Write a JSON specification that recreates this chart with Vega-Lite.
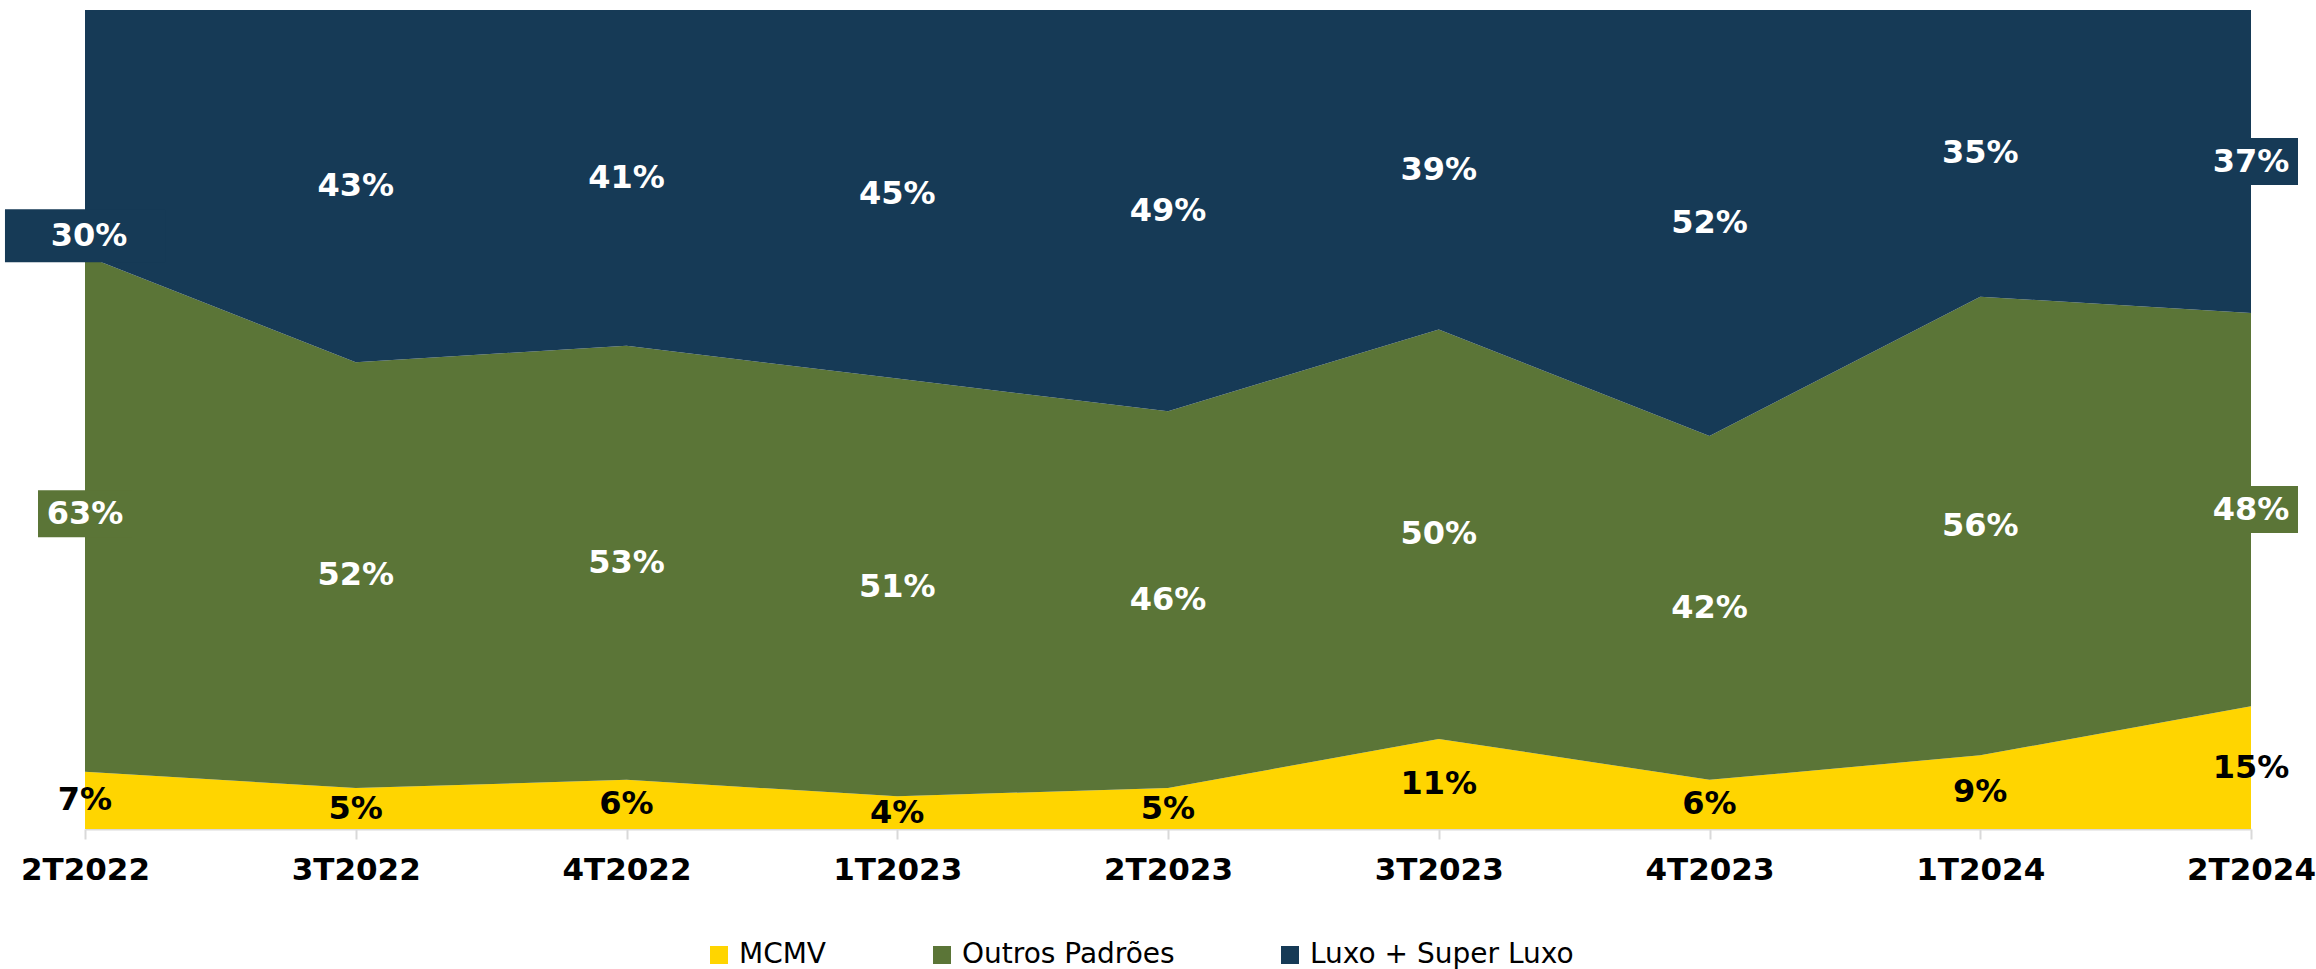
{
  "$schema": "https://vega.github.io/schema/vega-lite/v6.json",
  "width": 2166,
  "height": 819,
  "autosize": {"type": "none"},
  "padding": {"left": 85, "top": 10, "right": 65, "bottom": 140},
  "config": {"view": {"stroke": null}, "font": "DejaVu Sans"},
  "data": {
    "values": [
      {"quarter": "2T2022", "series": "MCMV", "ord": 1, "share": 0.07},
      {"quarter": "3T2022", "series": "MCMV", "ord": 1, "share": 0.05},
      {"quarter": "4T2022", "series": "MCMV", "ord": 1, "share": 0.06},
      {"quarter": "1T2023", "series": "MCMV", "ord": 1, "share": 0.04},
      {"quarter": "2T2023", "series": "MCMV", "ord": 1, "share": 0.05},
      {"quarter": "3T2023", "series": "MCMV", "ord": 1, "share": 0.11},
      {"quarter": "4T2023", "series": "MCMV", "ord": 1, "share": 0.06},
      {"quarter": "1T2024", "series": "MCMV", "ord": 1, "share": 0.09},
      {"quarter": "2T2024", "series": "MCMV", "ord": 1, "share": 0.15},
      {"quarter": "2T2022", "series": "Outros Padrões", "ord": 2, "share": 0.63},
      {"quarter": "3T2022", "series": "Outros Padrões", "ord": 2, "share": 0.52},
      {"quarter": "4T2022", "series": "Outros Padrões", "ord": 2, "share": 0.53},
      {"quarter": "1T2023", "series": "Outros Padrões", "ord": 2, "share": 0.51},
      {"quarter": "2T2023", "series": "Outros Padrões", "ord": 2, "share": 0.46},
      {"quarter": "3T2023", "series": "Outros Padrões", "ord": 2, "share": 0.50},
      {"quarter": "4T2023", "series": "Outros Padrões", "ord": 2, "share": 0.42},
      {"quarter": "1T2024", "series": "Outros Padrões", "ord": 2, "share": 0.56},
      {"quarter": "2T2024", "series": "Outros Padrões", "ord": 2, "share": 0.48},
      {"quarter": "2T2022", "series": "Luxo + Super Luxo", "ord": 3, "share": 0.30},
      {"quarter": "3T2022", "series": "Luxo + Super Luxo", "ord": 3, "share": 0.43},
      {"quarter": "4T2022", "series": "Luxo + Super Luxo", "ord": 3, "share": 0.41},
      {"quarter": "1T2023", "series": "Luxo + Super Luxo", "ord": 3, "share": 0.45},
      {"quarter": "2T2023", "series": "Luxo + Super Luxo", "ord": 3, "share": 0.49},
      {"quarter": "3T2023", "series": "Luxo + Super Luxo", "ord": 3, "share": 0.39},
      {"quarter": "4T2023", "series": "Luxo + Super Luxo", "ord": 3, "share": 0.52},
      {"quarter": "1T2024", "series": "Luxo + Super Luxo", "ord": 3, "share": 0.35},
      {"quarter": "2T2024", "series": "Luxo + Super Luxo", "ord": 3, "share": 0.37}
    ]
  },
  "transform": [
    {"stack": "share", "groupby": ["quarter"], "sort": [{"field": "ord", "order": "ascending"}], "as": ["y0", "y1"]},
    {"calculate": "(datum.y0 + datum.y1) / 2", "as": "ymid"}
  ],
  "encoding": {
    "x": {
      "field": "quarter",
      "type": "ordinal",
      "sort": ["2T2022", "3T2022", "4T2022", "1T2023", "2T2023", "3T2023", "4T2023", "1T2024", "2T2024"],
      "scale": {"type": "point", "padding": 0},
      "axis": {
        "title": null,
        "labelAngle": 0,
        "labelFont": "DejaVu Sans",
        "labelFontWeight": "bold",
        "labelFontSize": 31,
        "labelColor": "#000000",
        "labelPadding": 16,
        "labelOverlap": false,
        "labelFlush": false,
        "labelBound": false,
        "domainColor": "#d9d9d9",
        "domainWidth": 2,
        "tickColor": "#d9d9d9",
        "tickWidth": 2,
        "tickSize": 10,
        "grid": false
      }
    }
  },
  "layer": [
    {
      "mark": {"type": "area", "opacity": 1},
      "encoding": {
        "y": {"field": "y1", "type": "quantitative", "scale": {"domain": [0, 1], "nice": false}, "axis": null},
        "y2": {"field": "y0"},
        "color": {
          "field": "series",
          "type": "nominal",
          "scale": {"domain": ["MCMV", "Outros Padrões", "Luxo + Super Luxo"], "range": ["#FFD500", "#5B7537", "#163A56"]},
          "legend": {
            "title": null,
            "orient": "none",
            "direction": "horizontal",
            "legendX": 620,
            "legendY": 931,
            "symbolType": "square",
            "symbolSize": 324,
            "symbolStrokeWidth": 0,
            "symbolOpacity": 1,
            "labelFont": "DejaVu Sans",
            "labelFontSize": 28,
            "labelColor": "#000000",
            "labelOffset": 6,
            "columnPadding": 101,
            "labelLimit": 400
          }
        }
      }
    },
    {
      "transform": [
        {"filter": "(datum.quarter == '2T2024' || datum.quarter == '2T2022') && datum.series != 'MCMV' && !(datum.quarter == '2T2022' && datum.series == 'Luxo + Super Luxo')"}
      ],
      "mark": {"type": "point", "filled": true, "opacity": 1, "strokeWidth": 0, "shape": "M-2,-1H2V1H-2Z", "size": 2209},
      "encoding": {
        "y": {"field": "ymid", "type": "quantitative"},
        "fill": {
          "condition": {"test": "datum.series == 'Luxo + Super Luxo'", "value": "#163A56"},
          "value": "#5B7537"
        }
      }
    },
    {
      "transform": [
        {"filter": "datum.quarter == '2T2022' && datum.series == 'Luxo + Super Luxo'"}
      ],
      "mark": {"type": "point", "filled": true, "opacity": 1, "strokeWidth": 0, "shape": "M-3.02,-1H3.02V1H-3.02Z", "size": 2809, "yOffset": 103},
      "encoding": {
        "y": {"field": "ymid", "type": "quantitative"},
        "fill": {"value": "#163A56"}
      }
    },
    {
      "transform": [
        {"filter": "!(datum.quarter == '2T2022' && datum.series == 'Luxo + Super Luxo')"}
      ],
      "mark": {"type": "text", "font": "DejaVu Sans", "fontWeight": "bold", "fontSize": 32, "baseline": "middle", "align": "center"},
      "encoding": {
        "y": {"field": "ymid", "type": "quantitative"},
        "text": {"field": "share", "type": "quantitative", "format": ".0%"},
        "color": {
          "condition": {"test": "datum.series == 'MCMV'", "value": "#000000"},
          "value": "#ffffff"
        }
      }
    },
    {
      "transform": [
        {"filter": "datum.quarter == '2T2022' && datum.series == 'Luxo + Super Luxo'"}
      ],
      "mark": {"type": "text", "font": "DejaVu Sans", "fontWeight": "bold", "fontSize": 32, "baseline": "middle", "align": "center", "dy": 103, "dx": 4},
      "encoding": {
        "y": {"field": "ymid", "type": "quantitative"},
        "text": {"field": "share", "type": "quantitative", "format": ".0%"},
        "color": {"value": "#ffffff"}
      }
    }
  ]
}
